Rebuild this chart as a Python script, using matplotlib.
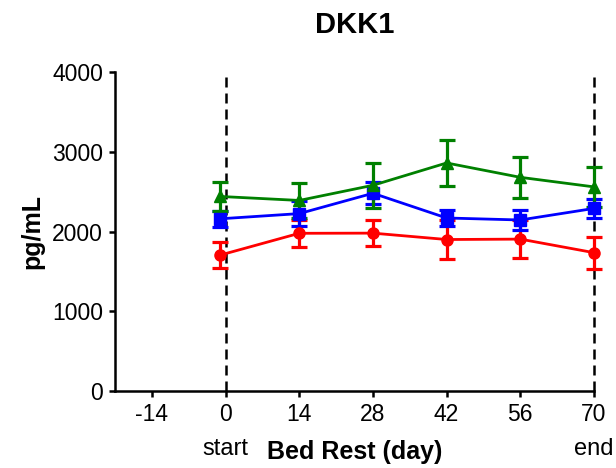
import matplotlib
matplotlib.use("Agg")
import matplotlib.pyplot as plt
import matplotlib.transforms as mtransforms

plt.rcParams['font.family'] = ['Liberation Sans', 'DejaVu Sans']
plt.rcParams['axes.unicode_minus'] = False

days = [-1, 14, 28, 42, 56, 70]
red_mean = [1705, 1978, 1980, 1900, 1905, 1735]
red_err = [167, 167, 165, 240, 240, 200]
blue_mean = [2160, 2225, 2480, 2170, 2145, 2290]
blue_err = [100, 160, 140, 100, 120, 120]
green_mean = [2440, 2390, 2580, 2860, 2680, 2560]
green_err = [180, 225, 285, 290, 260, 250]

xticks = [-14, 0, 14, 28, 42, 56, 70]
yticks = [0, 1000, 2000, 3000, 4000]

fig = plt.figure(figsize=(6.16, 4.68), dpi=100)
ax = fig.add_axes([0.1867, 0.1645, 0.7776, 0.6815])

series = [
    (red_mean, red_err, '#ff0000', 'o'),
    (blue_mean, blue_err, '#0000ff', 's'),
    (green_mean, green_err, '#008000', '^'),
]
for means, errs, color, marker in series:
    ax.errorbar(days, means, yerr=errs, color=color, marker=marker,
                markersize=8, linewidth=2.0, elinewidth=2.3,
                capsize=5.5, capthick=2.3, clip_on=False)

# start / end of bed rest
for d in (0, 70):
    ax.axvline(d, color='black', linewidth=1.8,
               linestyle=(0, (4.0, 2.4)), zorder=0, clip_on=False)

ax.set_xlim(-21, 70)
ax.set_ylim(0, 4000)
ax.set_xticks(xticks)
ax.set_yticks(yticks)
ax.tick_params(axis='both', direction='out', length=4.5, width=1.8,
               labelsize=16.5, pad=4)

for side in ('top', 'right'):
    ax.spines[side].set_visible(False)
for side in ('left', 'bottom'):
    ax.spines[side].set_linewidth(1.8)

ax.set_title('DKK1', fontsize=21, fontweight='bold', pad=28)
ax.set_ylabel('pg/mL', fontsize=18, fontweight='bold', labelpad=6)
ax.set_xlabel('Bed Rest (day)', fontsize=18, fontweight='bold', labelpad=10)

trans = mtransforms.blended_transform_factory(ax.transData, ax.transAxes)
ax.text(0, -0.148, 'start', transform=trans, ha='center', va='top',
        fontsize=17)
ax.text(70, -0.148, 'end', transform=trans, ha='center', va='top',
        fontsize=17)

fig.savefig('out.png', dpi=100)
